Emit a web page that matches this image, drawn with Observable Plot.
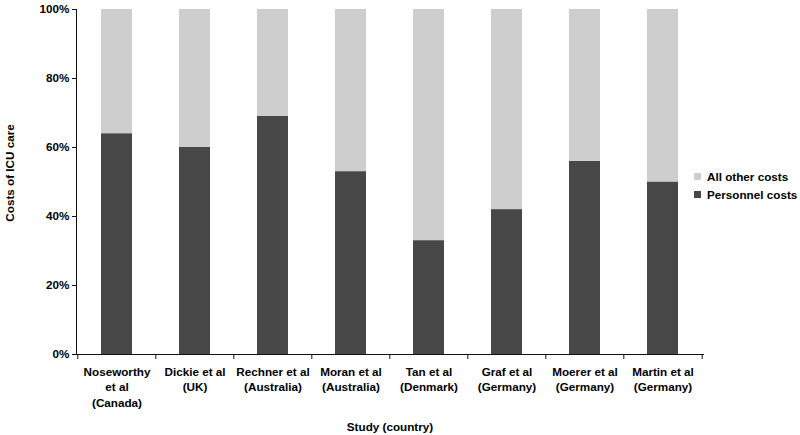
<!DOCTYPE html>
<html>
<head>
<meta charset="utf-8">
<script src="https://cdn.jsdelivr.net/npm/d3@7"></script>
<script src="https://cdn.jsdelivr.net/npm/@observablehq/plot@0.6"></script>
<style>
  body { margin: 0; background: #fff; }
  #wrap { position: relative; width: 800px; height: 435px; font-family: "Liberation Sans", Arial, sans-serif; }
  #legend { position: absolute; left: 694px; top: 168px; font: bold 11.7px "Liberation Sans", Arial, sans-serif; color: #000; }
  #legend .row { display: flex; align-items: center; height: 17.5px; white-space: nowrap; }
  #legend .sw { width: 7px; height: 7px; margin-right: 6px; }
</style>
</head>
<body>
<div id="wrap"><div id="legend"></div></div>
<script>
const studies = ["Noseworthy", "Dickie", "Rechner", "Moran", "Tan", "Graf", "Moerer", "Martin"];
const tickLabels = [
  "Noseworthy\net al\n(Canada)",
  "Dickie et al\n(UK)",
  "Rechner et al\n(Australia)",
  "Moran et al\n(Australia)",
  "Tan et al\n(Denmark)",
  "Graf et al\n(Germany)",
  "Moerer et al\n(Germany)",
  "Martin et al\n(Germany)"
];
const personnelCosts = [64, 60, 69, 53, 33, 42, 56, 50];
const allOtherCosts = [36, 40, 31, 47, 67, 58, 44, 50];
const seriesNames = ["Personnel costs", "All other costs"];
const seriesColors = ["#474747", "#cecece"];
const yTicks = [0, 20, 40, 60, 80, 100];
const yTitle = "Costs of ICU care";
const xTitle = "Study (country)";

const rows = [];
studies.forEach((s, i) => {
  rows.push({study: s, series: seriesNames[0], value: personnelCosts[i]});
  rows.push({study: s, series: seriesNames[1], value: allOtherCosts[i]});
});

const W = 800, H = 435, mL = 76, mR = 97, mT = 9, mB = 81;
const step = (W - mL - mR) / studies.length;

const plot = Plot.plot({
  width: W, height: H,
  marginLeft: mL, marginRight: mR, marginTop: mT, marginBottom: mB,
  style: {fontFamily: "'Liberation Sans', Arial, sans-serif", fontSize: "11.7px", fontWeight: "bold", color: "#000", background: "#fff", overflow: "visible"},
  x: {domain: studies, paddingInner: 0.6, paddingOuter: 0.3, label: null},
  y: {domain: [0, 100], label: null},
  color: {domain: seriesNames, range: seriesColors},
  marks: [
    Plot.barY(rows, {x: "study", y: "value", fill: "series"}),
    Plot.frame({anchor: "left", stroke: "#111"}),
    Plot.frame({anchor: "bottom", stroke: "#111"}),
    Plot.axisY({ticks: yTicks, tickSize: 4, tickPadding: 3, tickFormat: d => d + "%", stroke: "#111", label: null}),
    Plot.text([yTitle], {frameAnchor: "left", textAnchor: "middle", lineAnchor: "middle", rotate: -90, dx: -66, dy: -9, fill: "#000"}),
    Plot.axisX({tickSize: 0, tickPadding: 10, tickFormat: (d, i) => tickLabels[i], lineHeight: 1.33, label: null}),
    Plot.text([xTitle], {frameAnchor: "bottom", lineAnchor: "middle", dy: 73, fill: "#000"}),
    Plot.axisX({tickSize: 5, text: null, dx: -step / 2, label: null, stroke: "#111"}),
    Plot.axisX({ticks: [studies[studies.length - 1]], tickSize: 5, text: null, dx: step / 2, label: null, stroke: "#111"})
  ]
});
const wrap = document.getElementById("wrap");
wrap.insertBefore(plot, wrap.firstChild);

const color = plot.scale("color");
const legend = document.getElementById("legend");
seriesNames.slice().reverse().forEach((name) => {
  const i = color.domain.indexOf(name);
  const row = document.createElement("div");
  row.className = "row";
  const sw = document.createElement("div");
  sw.className = "sw";
  sw.style.background = color.range[i];
  const t = document.createElement("span");
  t.textContent = name;
  row.appendChild(sw);
  row.appendChild(t);
  legend.appendChild(row);
});
</script>
</body>
</html>
